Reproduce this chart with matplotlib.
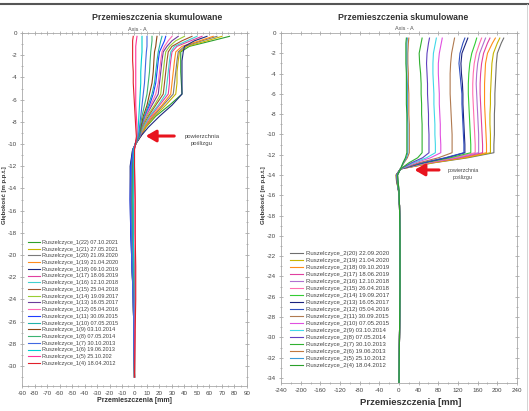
import matplotlib
matplotlib.use("Agg")
import matplotlib.pyplot as plt
from matplotlib.lines import Line2D
from matplotlib.ticker import MultipleLocator

plt.rcParams['axes.unicode_minus'] = False
plt.rcParams['font.family'] = ['Arial', 'Liberation Sans', 'DejaVu Sans']

# ---- left chart: Ruszelczyce_1 ----
depth1 = [-0.3, -0.7, -1.2, -1.7, -2.5, -3.5, -4.5, -5.5, -6.5, -7.5, -8.5, -9.3,
          -9.8, -10.5, -12, -15, -18, -21, -24, -27, -31]
labels1 = ["Ruszelczyce_1(22) 07.10.2021", "Ruszelczyce_1(21) 27.05.2021",
           "Ruszelczyce_1(20) 21.09.2020", "Ruszelczyce_1(19) 21.04.2020",
           "Ruszelczyce_1(18) 09.10.2019", "Ruszelczyce_1(17) 18.06.2019",
           "Ruszelczyce_1(16) 12.10.2018", "Ruszelczyce_1(15) 25.04.2018",
           "Ruszelczyce_1(14) 19.09.2017", "Ruszelczyce_1(13) 16.05.2017",
           "Ruszelczyce_1(12) 05.04.2016", "Ruszelczyce_1(11) 30.09.2015",
           "Ruszelczyce_1(10) 07.05.2015", "Ruszelczyce_1(9) 03.10.2014",
           "Ruszelczyce_1(8) 07.05.2014", "Ruszelczyce_1(7) 30.10.2013",
           "Ruszelczyce_1(6) 19.06.2013", "Ruszelczyce_1(5) 25.10.202",
           "Ruszelczyce_1(4) 18.04.2012"]
disp1 = [
    [76, 62, 44, 37, 37, 37, 37.5, 38, 28, 17, 9, 5, 2, -1.5, -3, -3, -2.5, -2, -1, -0.5, 0],
    [70, 58, 42, 36, 35, 34, 34, 33, 25, 16, 9, 5, 2, -1, -2.5, -3, -2.5, -2, -1, -0.5, 0],
    [66, 54, 40, 35, 34, 33, 32, 31, 23, 15, 8, 5, 2, -1, -2.5, -2.5, -2, -1.5, -1, -0.5, 0],
    [63, 52, 38, 33, 32, 31, 30, 29, 22, 14, 8, 4.5, 1.5, -1, -2, -2.5, -2, -1.5, -1, -0.5, 0],
    [58, 48, 40, 39, 38, 38, 38, 38, 30, 20, 11, 5, 2, -1.5, -3.5, -3.5, -3, -2, -1, -0.5, 0],
    [54, 45, 34, 30, 29, 28, 28, 27, 20, 13, 7, 4.5, 1.5, -1, -2, -2.5, -2, -1.5, -1, -0.5, 0],
    [50, 42, 32, 29, 28, 27, 26, 25, 19, 12, 7, 4, 1.5, -1, -2, -2, -2, -1.5, -1, -0.5, 0],
    [46, 38, 30, 27, 26, 25, 24, 23, 17, 11, 6, 4, 1.5, -1, -2, -2, -1.5, -1, -0.5, 0, 0],
    [40, 33, 28, 25, 24, 23, 22, 21, 16, 10, 6, 4, 1.5, -0.5, -1.5, -2, -1.5, -1, -0.5, 0, 0],
    [35, 30, 26, 23, 22, 21, 20, 19, 14, 9, 5.5, 4, 1.5, -0.5, -1.5, -2, -1.5, -1, -0.5, 0, 0],
    [30, 27, 24, 22, 21, 20, 19, 17, 13, 9, 5, 4, 1.5, -0.5, -1.5, -1.5, -1, -1, -0.5, 0, 0],
    [25, 24, 22, 20, 19, 18, 17, 15, 12, 8, 5, 4, 1.5, -1, -3, -3.5, -3, -2, -1, -0.5, 0],
    [22, 21, 20, 19, 18, 17, 16, 14, 11, 8, 5, 4, 1.5, -0.5, -1.5, -1.5, -1, -1, -0.5, 0, 0],
    [18, 17.5, 17, 16, 15.5, 15, 14, 12, 10, 7, 5, 3.5, 1, -0.5, -1.5, -1.5, -1, -0.5, -0.5, 0, 0],
    [14, 14, 13.5, 13, 12.5, 12, 11, 10, 8, 6, 4.5, 3.5, 1, -0.5, -1, -1.5, -1, -0.5, 0, 0, 0],
    [10, 10, 10, 9.5, 9, 8.5, 8, 7, 6, 5, 4, 3, 1, -1, -2.5, -3, -2.5, -2, -1, -0.5, 0],
    [6, 6, 6, 6, 5.5, 5, 5, 4.5, 4, 3.5, 3, 2.5, 1, -0.5, -1, -1, -1, -0.5, 0, 0, 0],
    [2, 1.5, 1, 1, 1, 1, 1, 1, 1, 1.5, 2, 2, 1, 0, 0, 0.5, 0.5, 0.5, 0.5, 0.2, 0],
    [-1, -1.5, -1.5, -1.5, -1.5, -1, -1, -0.5, 0, 0.5, 1, 1.5, 1, 0, 0, 0.5, 0.5, 1, 1, 0.5, 0],
]
colors1 = ['#2ca02c', '#c8b400', '#7a7a7a', '#ff8c1a', '#1f2a80', '#e040a0',
           '#40d0d0', '#a0522d', '#9acd32', '#6a3d9a', '#ff69b4', '#1e3cff',
           '#20b2aa', '#8b4513', '#3cb371', '#4169e1', '#00ced1', '#ff3399', '#e0202a']

# ---- right chart: Ruszelczyce_2 ----
depth2 = [-0.5, -1, -2, -3, -4, -5, -6, -7, -8, -9, -10, -11, -11.8,
          -12.3, -12.8, -13.4, -14.0, -14.6, -15.5, -17, -20, -25, -30, -34.5]
labels2 = ["Ruszelczyce_2(20) 22.09.2020", "Ruszelczyce_2(19) 21.04.2020",
           "Ruszelczyce_2(18) 09.10.2019", "Ruszelczyce_2(17) 18.06.2019",
           "Ruszelczyce_2(16) 12.10.2018", "Ruszelczyce_2(15) 26.04.2018",
           "Ruszelczyce_2(14) 19.09.2017", "Ruszelczyce_2(13) 16.05.2017",
           "Ruszelczyce_2(12) 05.04.2016", "Ruszelczyce_2(11) 30.09.2015",
           "Ruszelczyce_2(10) 07.05.2015", "Ruszelczyce_2(9) 03.10.2014",
           "Ruszelczyce_2(8) 07.05.2014", "Ruszelczyce_2(7) 30.10.2013",
           "Ruszelczyce_2(6) 19.06.2013", "Ruszelczyce_2(5) 25.10.2012",
           "Ruszelczyce_2(4) 18.04.2012"]
disp2 = [
    [213, 208, 200, 198, 197, 196, 195, 195, 194, 194, 194, 193, 193, 140, 70, 3, -6, -5, -1, 1, 2, 2, 1, 0],
    [205, 200, 192, 189, 188, 187, 186, 186, 185, 185, 186, 186, 186, 135, 68, 3, -6, -5, -1, 1, 2, 2, 1, 0],
    [196, 190, 180, 176, 175, 174, 174, 174, 175, 176, 177, 178, 178, 128, 64, 3, -5, -4, -1, 1, 2, 2, 1, 0],
    [185, 180, 172, 168, 166, 165, 165, 166, 167, 168, 169, 170, 170, 122, 60, 3, -5, -4, -1, 1, 2, 2, 1, 0],
    [176, 172, 164, 160, 158, 157, 158, 159, 160, 161, 162, 162, 162, 116, 57, 3, -5, -4, -1, 1, 2, 2, 1, 0],
    [168, 164, 157, 153, 151, 150, 150, 151, 152, 153, 154, 155, 155, 110, 55, 3, -5, -4, -1, 1, 2, 2, 1, 0],
    [158, 155, 148, 144, 142, 141, 141, 142, 143, 144, 145, 146, 146, 104, 52, 3, -5, -4, -1, 1, 2, 2, 1, 0],
    [140, 136, 128, 126, 127, 129, 130, 130, 131, 132, 133, 134, 134, 96, 48, 3, -5, -4, -1, 1, 2, 2, 1, 0],
    [134, 130, 124, 122, 124, 126, 128, 128, 129, 130, 131, 132, 132, 94, 47, 3, -5, -4, -1, 1, 2, 2, 1, 0],
    [113, 111, 107, 105, 104, 104, 104, 105, 106, 107, 108, 108, 108, 80, 40, 3, -4, -4, -1, 1, 2, 2, 1, 0],
    [88, 86, 82, 80, 80, 81, 82, 82, 83, 84, 84, 85, 85, 64, 33, 3, -4, -3, -1, 1, 2, 2, 1, 0],
    [76, 74, 70, 69, 69, 70, 71, 71, 72, 73, 73, 74, 74, 56, 29, 3, -4, -3, -1, 1, 2, 2, 1, 0],
    [62, 60, 57, 56, 57, 58, 58, 59, 60, 60, 61, 61, 61, 48, 25, 3, -4, -3, -1, 1, 2, 2, 1, 0],
    [47, 45, 41, 42, 44, 45, 45, 46, 46, 47, 47, 47, 47, 38, 20, 3, -3, -3, -1, 1, 2, 2, 1, 0],
    [20, 19, 18, 18, 19, 19, 20, 20, 20, 21, 21, 21, 21, 17, 10, 3, -3, -2, 0, 1, 2, 2, 1, 0],
    [17, 16, 16, 16, 16, 17, 17, 17, 17, 18, 18, 18, 18, 15, 9, 3, -3, -2, 0, 1, 2, 2, 1, 0],
    [15, 14, 14, 14, 15, 15, 15, 15, 16, 16, 16, 16, 16, 13, 8, 3, -3, -2, 0, 1, 2, 2, 1, 0],
]
colors2 = ['#6e6e6e', '#c8b400', '#ff8c1a', '#e040a0', '#b070d0', '#ff6fb0',
           '#33cc33', '#1a237e', '#3050c0', '#b07a50', '#e050e0', '#40d8e8',
           '#6040c0', '#30b030', '#c07840', '#3a9ad9', '#2aa02a']

fig = plt.figure(figsize=(5.29, 4.11), dpi=100)
fig.patch.set_facecolor('white')

ax1 = fig.add_axes([0.0416, 0.0608, 0.4253, 0.8589])
ax2 = fig.add_axes([0.5312, 0.0681, 0.4461, 0.8516])

for i in range(len(disp1)):
    ax1.plot(disp1[i], depth1, color=colors1[i], lw=0.8, label=labels1[i])
for i in range(len(disp2)):
    ax2.plot(disp2[i], depth2, color=colors2[i], lw=0.8, label=labels2[i])

ax1.set_xlim(-90, 90)
ax1.set_ylim(-31.8, 0)
ax1.xaxis.set_major_locator(MultipleLocator(10))
ax1.xaxis.set_minor_locator(MultipleLocator(5))
ax2.set_xlim(-240, 240)
ax2.set_ylim(-34.5, 0)
ax2.xaxis.set_major_locator(MultipleLocator(40))
ax2.xaxis.set_minor_locator(MultipleLocator(20))

for ax in (ax1, ax2):
    ax.yaxis.set_major_locator(MultipleLocator(2))
    ax.yaxis.set_minor_locator(MultipleLocator(1))
    ax.tick_params(which='both', direction='inout', top=True, right=True,
                   labelsize=4.5, colors='#999999', labelcolor='#444444',
                   width=0.5, pad=2)
    ax.tick_params(which='major', length=3)
    ax.tick_params(which='minor', length=2)
    ax.tick_params(axis='x', labeltop=False)
    ax.tick_params(axis='y', labelright=False)
    for s in ax.spines.values():
        s.set_color('#a8a8a8')
        s.set_linewidth(0.6)

# titles and labels
fig.text(157 / 529, 1 - 18 / 411, "Przemieszczenia skumulowane", ha='center', va='center',
         fontsize=6.3, fontweight='bold', color='#333333')
fig.text(403 / 529, 1 - 18 / 411, "Przemieszczenia skumulowane", ha='center', va='center',
         fontsize=6.3, fontweight='bold', color='#333333')
fig.text(137 / 529, 1 - 29.5 / 411, "Axis - A", ha='center', va='center', fontsize=4, color='#555555')
fig.text(404 / 529, 1 - 29 / 411, "Axis - A", ha='center', va='center', fontsize=4, color='#555555')
fig.text(5 / 529, 1 - 195 / 411, "Głębokość [m p.p.t.]", rotation=90, ha='center', va='center',
         fontsize=4.3, fontweight='bold', color='#333333')
fig.text(264 / 529, 1 - 195 / 411, "Głębokość [m p.p.t.]", rotation=90, ha='center', va='center',
         fontsize=4.3, fontweight='bold', color='#333333')
fig.text(134 / 529, 1 - 400 / 411, "Przemieszczenia [mm]", ha='center', va='center',
         fontsize=5, fontweight='bold', color='#333333')
fig.text(411 / 529, 1 - 402 / 411, "Przemieszczenia [mm]", ha='center', va='center',
         fontsize=6.8, fontweight='bold', color='#333333')

# slip surface arrows
ax1.annotate("", xy=(6.8, -9.28), xytext=(34, -9.28),
             arrowprops=dict(arrowstyle='-|>,head_length=0.6,head_width=0.35', color='#e8141e', lw=2.2))
ax1.text(54, -9.6, "powierzchnia\npoślizgu", ha='center', va='center', fontsize=4.3,
         color='#444444', linespacing=1.5)
ax2.annotate("", xy=(26, -13.5), xytext=(87, -13.5),
             arrowprops=dict(arrowstyle='-|>,head_length=0.6,head_width=0.35', color='#e8141e', lw=2.2))
ax2.text(130, -13.9, "powierzchnia\npoślizgu", ha='center', va='center', fontsize=3.8,
         color='#444444', linespacing=1.4)

# legends
ax1.legend(loc='upper left', bbox_to_anchor=(24 / 529, 1 - 236 / 411), bbox_transform=fig.transFigure,
           frameon=False, fontsize=4.0, handlelength=2.2, handletextpad=0.4,
           labelspacing=0.31, borderpad=0.2, labelcolor='#444444')
ax2.legend(loc='upper left', bbox_to_anchor=(286 / 529, 1 - 247 / 411), bbox_transform=fig.transFigure,
           frameon=False, fontsize=4.3, handlelength=2.2, handletextpad=0.4,
           labelspacing=0.3, borderpad=0.2, labelcolor='#444444')

# frame lines of the scanned page
fig.add_artist(Line2D([0, 1], [1 - 4 / 411, 1 - 4 / 411], transform=fig.transFigure,
                      color='#555555', lw=1.5))
fig.add_artist(Line2D([527 / 529, 527 / 529], [0, 1 - 4 / 411], transform=fig.transFigure,
                      color='#cccccc', lw=0.6))

fig.savefig("out.png", dpi=100, facecolor='white')
